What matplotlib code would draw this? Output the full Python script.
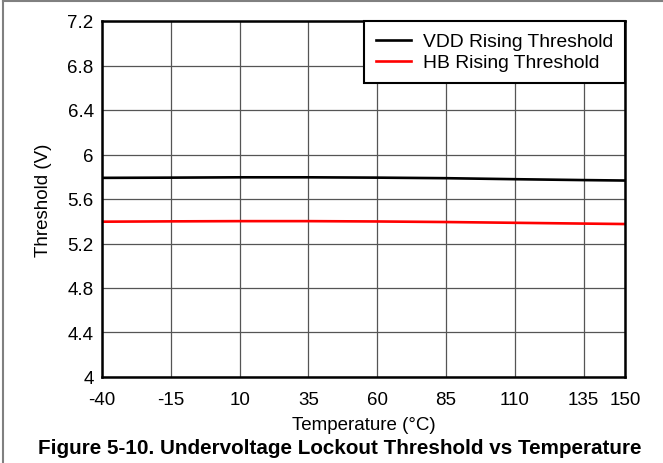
import matplotlib
matplotlib.use("Agg")
import matplotlib.pyplot as plt

plt.rcParams['font.family'] = ['Liberation Sans', 'DejaVu Sans']

# data
temps = [-40, -15, 10, 35, 60, 85, 110, 135, 150]
vdd_rise = [5.79, 5.792, 5.795, 5.795, 5.792, 5.787, 5.778, 5.77, 5.766]
hb_rise = [5.396, 5.399, 5.401, 5.401, 5.398, 5.393, 5.386, 5.379, 5.375]
xticks = [-40, -15, 10, 35, 60, 85, 110, 135, 150]
yticks = [4, 4.4, 4.8, 5.2, 5.6, 6, 6.4, 6.8, 7.2]

fig = plt.figure(figsize=(6.63, 4.64), dpi=100)
ax = fig.add_axes([102/663, 1-378/464, 523/663, 356/464])

ax.plot(temps, vdd_rise, color='black', lw=1.9, label='VDD Rising Threshold')
ax.plot(temps, hb_rise, color='#ff0000', lw=1.9, label='HB Rising Threshold')

ax.set_xlim(-40, 150)
ax.set_ylim(4, 7.2)
ax.set_xticks(xticks)
ax.set_xticklabels([str(t) for t in xticks])
ax.set_yticks(yticks)
ax.set_yticklabels(['4', '4.4', '4.8', '5.2', '5.6', '6', '6.4', '6.8', '7.2'])
ax.tick_params(axis='y', length=0, labelsize=13.5, pad=6)
ax.tick_params(axis='x', length=0, labelsize=13.5, pad=10)
ax.grid(True, color='#555555', lw=0.9)
ax.set_axisbelow(True)
for s in ax.spines.values():
    s.set_linewidth(1.8)
    s.set_color('black')

ax.set_xlabel('Temperature (°C)', fontsize=13.5, labelpad=6)
ax.set_ylabel('Threshold (V)', fontsize=13.5, labelpad=11)

leg = ax.legend(loc='upper right', borderaxespad=0, fontsize=13.9, fancybox=False,
                framealpha=1, edgecolor='black', handlelength=1.8, labelspacing=0.18,
                borderpad=0.62, handletextpad=0.62)
leg.get_frame().set_linewidth(1.5)

fig.text(0.513, 1 - 449/464, 'Figure 5-10. Undervoltage Lockout Threshold vs Temperature',
         ha='center', va='center', fontsize=14.9, fontweight='bold')

# thin gray frame along top and left of the figure
fig.add_artist(plt.Line2D([3/663, 1], [1-2/464, 1-2/464], color='#808080', lw=1.5, transform=fig.transFigure))
fig.add_artist(plt.Line2D([3/663, 3/663], [0, 1-2/464], color='#808080', lw=1.5, transform=fig.transFigure))

fig.savefig('out.png', dpi=100)
